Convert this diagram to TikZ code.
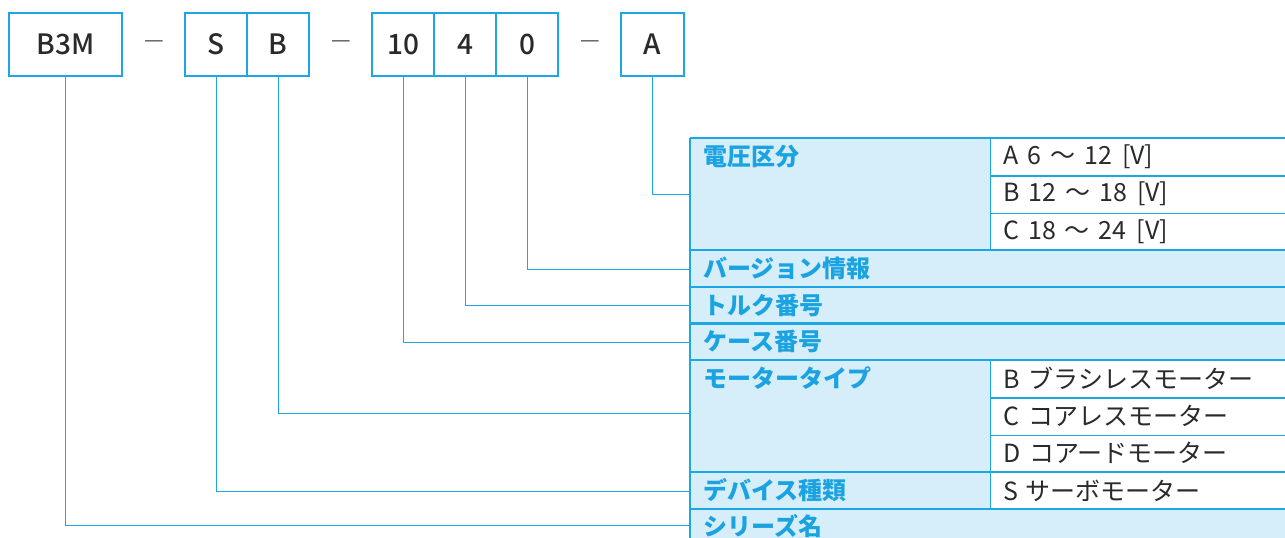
\documentclass[tikz,border=0pt]{standalone}
\usepackage{fontspec}
\setmainfont{Noto Sans CJK JP}
\newfontfamily\jpmed{Noto Sans CJK JP Medium}
\definecolor{cy}{HTML}{1CA6E2}
\definecolor{lb}{HTML}{D6EDFA}
\definecolor{hd}{HTML}{1AA3E0}
\definecolor{tx}{HTML}{2A2A2A}
\newcommand{\vsp}[1]{\hspace{#1pt}}
\tikzset{
  topbox/.style={draw=cy, line width=1.3pt, fill=white, inner sep=0pt, minimum height=63pt, text=tx, font=\fontsize{28}{30}\selectfont\jpmed},
  cell/.style={draw=cy, line width=1.3pt, inner sep=0pt, anchor=north west},
  labcell/.style={cell, fill=lb},
  valcell/.style={cell, fill=white},
  sep/.style={cy, line width=2.6pt},
  conn/.style={cy, line width=1pt},
  hdtext/.style={anchor=west, inner sep=0pt, text=hd, font=\fontsize{24}{26}\selectfont\bfseries},
  valtext/.style={anchor=west, inner sep=0pt, text=tx, font=\fontsize{25}{27}\selectfont},
  dashtext/.style={inner sep=0pt, text=tx!80, font=\fontsize{22}{24}\selectfont}
}
\begin{document}
\begin{tikzpicture}[x=1pt, y={(0pt,-1pt)}]
\useasboundingbox (0,0) rectangle (1285,538);
\clip (0,0) rectangle (1285,538);
% top code boxes
\node[topbox, minimum width=113pt] (b3m) at (65.5,44.5) {B3M};
\node[topbox, minimum width=62pt] (s) at (216,44.5) {S};
\node[topbox, minimum width=62pt] (b) at (278,44.5) {B};
\node[topbox, minimum width=62pt] (n10) at (403,44.5) {10};
\node[topbox, minimum width=62pt] (n4) at (465,44.5) {4};
\node[topbox, minimum width=62pt] (n0) at (527,44.5) {0};
\node[topbox, minimum width=63pt] (a) at (652.5,44.5) {A};
\node[dashtext] (d1) at (154,44) {—};
\node[dashtext] (d2) at (341,44) {—};
\node[dashtext] (d3) at (590,44) {—};
% table cells
\node[labcell, minimum width=300pt, minimum height=112pt] (volt) at (690,138) {};
\node[valcell, minimum width=300pt, minimum height=37.33pt] (vA) at (990,138) {};
\node[valcell, minimum width=300pt, minimum height=37.33pt] (vB) at (990,175.33) {};
\node[valcell, minimum width=300pt, minimum height=37.33pt] (vC) at (990,212.67) {};
\node[labcell, minimum width=600pt, minimum height=37pt] (ver) at (690,250) {};
\node[labcell, minimum width=600pt, minimum height=36.5pt] (tor) at (690,287) {};
\node[labcell, minimum width=600pt, minimum height=36.5pt] (cas) at (690,323.5) {};
\node[labcell, minimum width=300pt, minimum height=112pt] (mot) at (690,360) {};
\node[valcell, minimum width=300pt, minimum height=37.33pt] (mB) at (990,360) {};
\node[valcell, minimum width=300pt, minimum height=37.33pt] (mC) at (990,397.33) {};
\node[valcell, minimum width=300pt, minimum height=37.33pt] (mD) at (990,434.67) {};
\node[labcell, minimum width=300pt, minimum height=37pt] (dev) at (690,472) {};
\node[valcell, minimum width=300pt, minimum height=37pt] (dS) at (990,472) {};
\node[labcell, minimum width=600pt, minimum height=40pt] (ser) at (690,509) {};
% thick separators
\draw[sep] (690,138) -- (1290,138);
\foreach \yy in {250,287,323.5,360,472,509} \draw[sep] (690,\yy) -- (1290,\yy);
\draw[sep] (690,138) -- (690,540);
% header texts
\node[hdtext] (t1) at (703,157) {電圧区分};
\node[hdtext] (t2) at (703,268.5) {バージョン情報};
\node[hdtext] (t3) at (703,305) {トルク番号};
\node[hdtext] (t4) at (703,341.5) {ケース番号};
\node[hdtext] (t5) at (703,378.5) {モータータイプ};
\node[hdtext] (t6) at (703,490.5) {デバイス種類};
\node[hdtext] (t7) at (703,526) {シリーズ名};
% value texts
\node[valtext] (u1) at (1003,157) {A\vsp{9}6\vsp{9}～\vsp{9}12\vsp{10}[V]};
\node[valtext] (u2) at (1003,194) {B\vsp{9}12\vsp{9}～\vsp{9}18\vsp{10}[V]};
\node[valtext] (u3) at (1003,231.5) {C\vsp{9}18\vsp{9}～\vsp{9}24\vsp{10}[V]};
\node[valtext] (u4) at (1003,378.5) {B\vsp{9}ブラシレスモーター};
\node[valtext] (u5) at (1003,416) {C\vsp{9}コアレスモーター};
\node[valtext] (u6) at (1003,453) {D\vsp{9}コアードモーター};
\node[valtext] (u7) at (1003,490.5) {S\vsp{7}サーボモーター};
% connectors
\draw[conn] (a.south) |- (volt.west);
\draw[conn] (n0.south) |- (ver.west);
\draw[conn] (n4.south) |- (tor.west);
\draw[conn] (n10.south) |- (cas.west);
\draw[conn] (b.south) |- ([yshift=3pt]mot.west);
\draw[conn] (s.south) |- (dev.west);
\draw[conn] (b3m.south) |- ([yshift=4pt]ser.west);
\end{tikzpicture}
\end{document}
